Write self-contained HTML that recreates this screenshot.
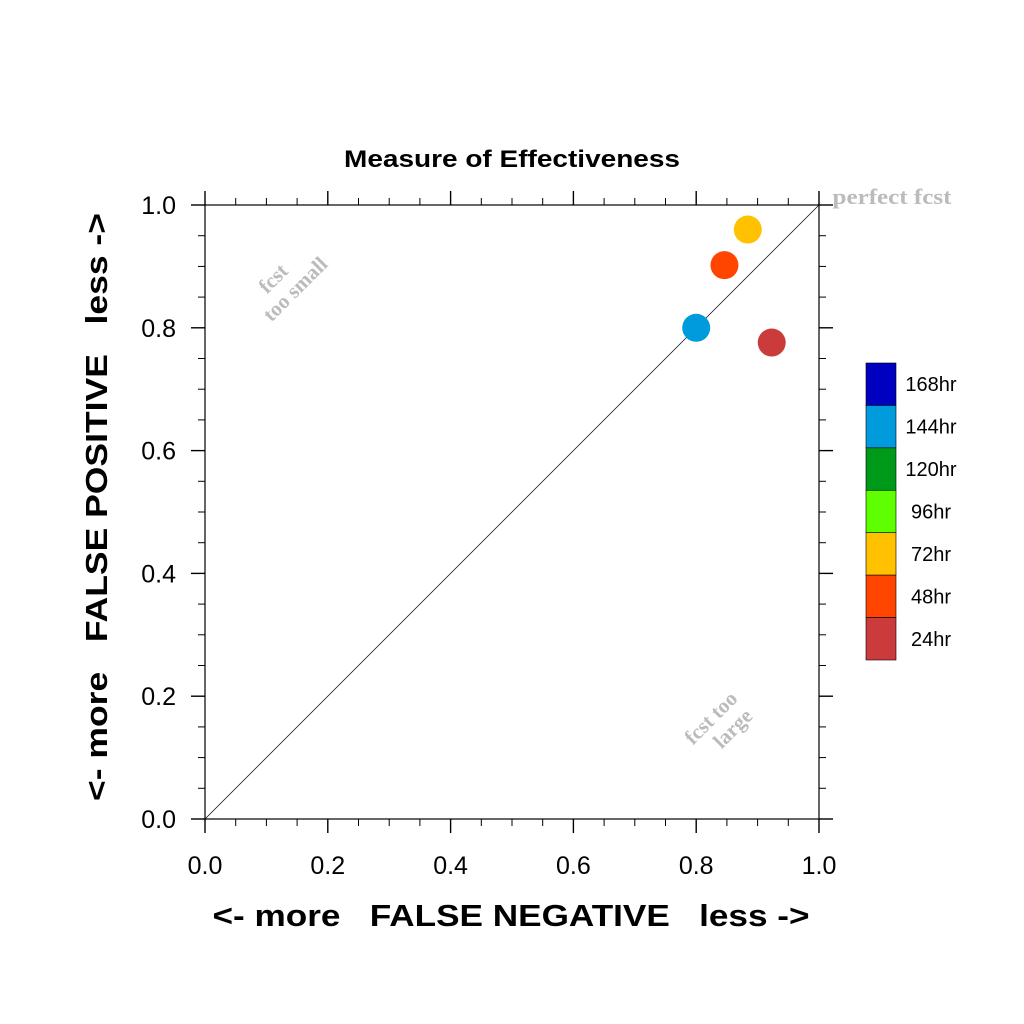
<!DOCTYPE html>
<html><head><meta charset="utf-8"><style>
html,body{margin:0;padding:0;background:#fff;}
svg{display:block;font-family:"Liberation Sans",sans-serif;}
</style></head><body>
<svg id="chart" width="1024" height="1024" viewBox="0 0 1024 1024">
<rect width="1024" height="1024" fill="#fff"/>
<text x="512" y="167" text-anchor="middle" font-size="24" font-weight="bold" textLength="336" lengthAdjust="spacingAndGlyphs">Measure of Effectiveness</text>
<g id="axes"></g>
<g id="marks"></g>
<text x="892" y="204" text-anchor="middle" font-family="Liberation Serif" font-weight="bold" font-size="22" fill="#bbb" textLength="119" lengthAdjust="spacingAndGlyphs">perfect fcst</text>
<g transform="translate(288,282) rotate(-45)" fill="#bbb" font-family="Liberation Serif" font-weight="bold" font-size="21" text-anchor="middle">
<text x="-8" y="-6">fcst</text><text x="0" y="17">too small</text></g>
<g transform="translate(720,727) rotate(-45)" fill="#bbb" font-family="Liberation Serif" font-weight="bold" font-size="21" text-anchor="middle">
<text x="0" y="-6">fcst too</text><text x="8" y="17">large</text></g>
<text x="511" y="926" text-anchor="middle" font-size="31" font-weight="bold" textLength="597" lengthAdjust="spacingAndGlyphs" xml:space="preserve">&lt;- more   FALSE NEGATIVE   less -&gt;</text>
<text transform="translate(107,507) rotate(-90)" text-anchor="middle" font-size="31" font-weight="bold" textLength="588" lengthAdjust="spacingAndGlyphs" xml:space="preserve">&lt;- more   FALSE POSITIVE   less -&gt;</text>
<g id="legend"></g>
</svg>
<script>
const fnValues = [0.923, 0.846, 0.884, 0.80];
const fpValues = [0.776, 0.902, 0.960, 0.80];
const pointColors = ["#cc3b3b", "#ff4500", "#ffc100", "#009bdc"];
const tickLabels = ["0.0", "0.2", "0.4", "0.6", "0.8", "1.0"];
const legendLabels = ["168hr", "144hr", "120hr", "96hr", "72hr", "48hr", "24hr"];
const legendColors = ["#0000c0", "#009bdc", "#009a1a", "#5eff00", "#ffc100", "#ff4500", "#cc3b3b"];

const NS = "http://www.w3.org/2000/svg";
const x0 = 205, x1 = 819, y0 = 819, y1 = 205;
const sx = v => x0 + v * (x1 - x0);
const sy = v => y0 - v * (y0 - y1);
function mk(tag, attrs, parent) {
  const e = document.createElementNS(NS, tag);
  for (const k in attrs) e.setAttribute(k, attrs[k]);
  parent.appendChild(e); return e;
}
const axes = document.getElementById("axes");
const frame = mk("rect", {x: x0, y: y1, width: x1 - x0, height: y0 - y1, fill: "none", stroke: "#000", "stroke-width": 1.2}, axes);


const diag = mk("line", {x1: sx(0), y1: sy(0), x2: sx(1), y2: sy(1), stroke: "#000", "stroke-width": 0.7}, axes);


for (let i = 0; i <= 20; i++) {
  const v = i / 20, major = i % 4 === 0, L = major ? 14 : 7;
  const px = sx(v), py = sy(v);
  const t = [
    mk("line", {x1: px, y1: y0, x2: px, y2: y0 + L}, axes),
    mk("line", {x1: px, y1: y1, x2: px, y2: y1 - L}, axes),
    mk("line", {x1: x0, y1: py, x2: x0 - L, y2: py}, axes),
    mk("line", {x1: x1, y1: py, x2: x1 + L, y2: py}, axes)];
  t.forEach(l => { l.setAttribute("stroke", "#000"); l.setAttribute("stroke-width", major ? 1.4 : 1);
    
     });
}
tickLabels.forEach((lab, i) => {
  const v = parseFloat(lab);
  const tx = mk("text", {x: sx(v), y: 874, "text-anchor": "middle", "font-size": 25}, axes);
  tx.textContent = lab;
  
  
  const ty = mk("text", {x: 176, y: sy(v) + 9, "text-anchor": "end", "font-size": 25}, axes);
  ty.textContent = lab;
  
  
});
const marks = document.getElementById("marks");
fnValues.forEach((v, i) => {
  const c = mk("circle", {cx: sx(v), cy: sy(fpValues[i]), r: 14, fill: pointColors[i]}, marks);
  
  
});
const legend = document.getElementById("legend");
const lh = (660 - 363) / legendLabels.length;
legendLabels.forEach((lab, i) => {
  const y = 363 + i * lh;
  const r = mk("rect", {x: 866, y: y, width: 30, height: lh, fill: legendColors[i], stroke: "#000", "stroke-width": 0.6}, legend);
  
  
  const t = mk("text", {x: 931, y: y + lh / 2 + 7, "text-anchor": "middle", "font-size": 20}, legend);
  t.textContent = lab;
  
  
});
</script>
</body></html>
